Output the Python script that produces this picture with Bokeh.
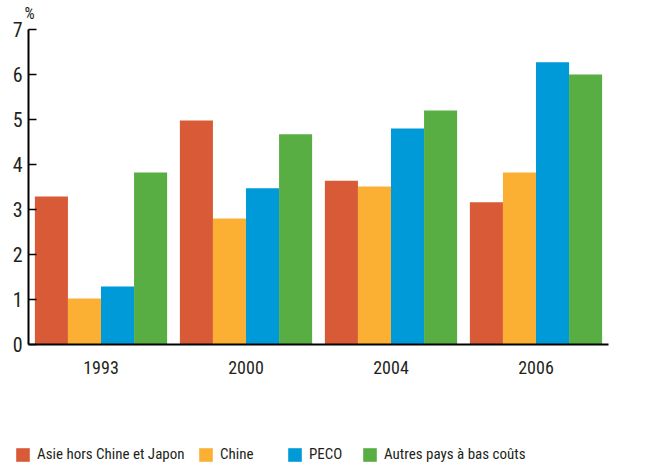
from bokeh.plotting import figure
from bokeh.models import (ColumnDataSource, Range1d, Legend, LegendItem, Label,
                          FixedTicker, LinearAxis)
from bokeh.transform import dodge
from bokeh.embed import file_html
from bokeh.resources import INLINE

years = ["1993", "2000", "2004", "2006"]
asie = [3.29, 4.98, 3.64, 3.16]
chine = [1.02, 2.80, 3.51, 3.82]
peco = [1.29, 3.47, 4.80, 6.27]
autres = [3.82, 4.67, 5.20, 6.00]
series_names = ["Asie hors Chine et Japon", "Chine", "PECO", "Autres pays à bas coûts"]
colors = ["#d95a36", "#fbb034", "#009ad8", "#58ae42"]
y_ticks = [0, 1, 2, 3, 4, 5, 6, 7]

FONT = "'Roboto Condensed', 'Liberation Sans Narrow', Roboto, sans-serif"
TXT = "#231f20"

xpos = [i + 0.5 for i in range(len(years))]
src = ColumnDataSource(dict(x=xpos, asie=asie, chine=chine, peco=peco, autres=autres))

# frame spans the whole canvas; axes are pinned at data locations
p = figure(width=645, height=465,
           x_range=Range1d(-28 / 145, 4 + 37 / 145),
           y_range=Range1d(-121 / 45, 7 + 29 / 45),
           output_backend="svg", toolbar_location=None,
           x_axis_type=None, y_axis_type=None,
           min_border=0, min_border_left=0, min_border_right=0,
           min_border_top=0, min_border_bottom=0)
p.outline_line_color = None
p.grid.visible = False
p.background_fill_color = "white"
p.border_fill_color = "white"

bw = 0.228
offsets = [-1.5 * bw, -0.5 * bw, 0.5 * bw, 1.5 * bw]
keys = ["asie", "chine", "peco", "autres"]
renderers = []
for k, off, c in zip(keys, offsets, colors):
    r = p.vbar(x=dodge("x", off), top=k, width=bw, source=src,
               fill_color=c, line_color=None)
    renderers.append(r)

yax = LinearAxis(fixed_location=0, bounds=(0, 7), ticker=FixedTicker(ticks=y_ticks))
yax.minor_tick_line_color = None
yax.major_tick_in = 8
yax.major_tick_out = 0
yax.major_tick_line_color = "black"
yax.major_tick_line_width = 1.5
yax.axis_line_color = "black"
yax.axis_line_width = 2
yax.major_label_text_font = FONT
yax.major_label_text_font_size = "20px"
yax.major_label_text_color = TXT
yax.major_label_standoff = 6
p.add_layout(yax, "left")

xax = LinearAxis(fixed_location=0, bounds=(0, 4), ticker=FixedTicker(ticks=xpos),
                 major_label_overrides={x: y for x, y in zip(xpos, years)})
xax.axis_line_color = "black"
xax.axis_line_width = 2
xax.major_tick_line_color = None
xax.minor_tick_line_color = None
xax.major_label_text_font = FONT
xax.major_label_text_font_size = "18px"
xax.major_label_text_color = TXT
xax.major_label_standoff = 10
p.add_layout(xax, "below")

p.add_layout(Label(x=0, y=7, x_offset=-4, y_offset=7, text="%",
                   text_font=FONT, text_font_size="16px", text_color=TXT,
                   text_baseline="bottom"))

leg_x = [14, 197, 286, 361]
for name, r, lx in zip(series_names, renderers, leg_x):
    lg = Legend(items=[LegendItem(label=name, renderers=[r])],
                location=(lx, 2), padding=0, margin=0, spacing=0,
                glyph_width=17, glyph_height=17, label_standoff=6,
                label_text_font=FONT, label_text_font_size="15px",
                label_text_color=TXT, border_line_color=None,
                background_fill_alpha=0)
    p.add_layout(lg, "center")

open("out.html", "w").write(file_html(p, INLINE))
